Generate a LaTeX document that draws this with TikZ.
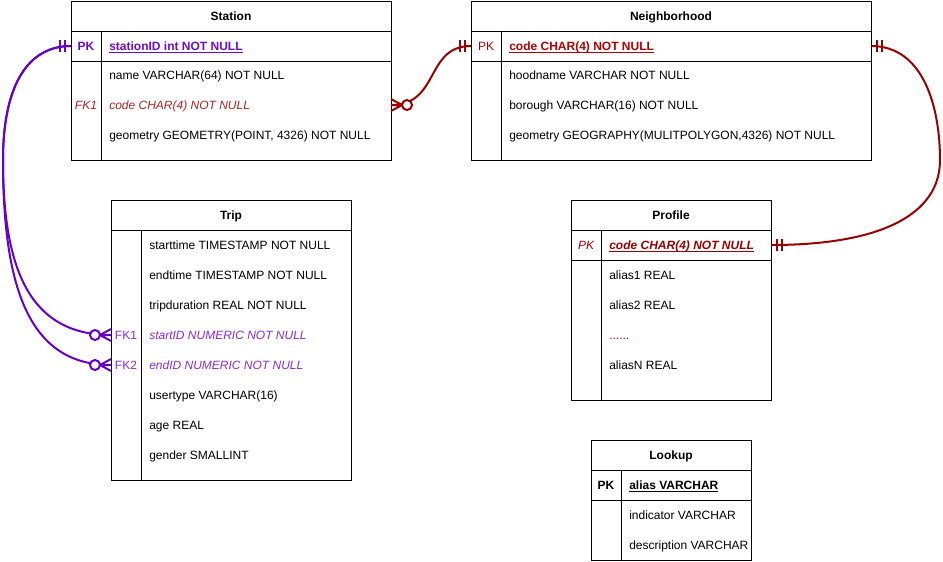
\documentclass[tikz,border=0pt]{standalone}
\usepackage{fontspec}
\setmainfont{Liberation Sans}
\newcommand{\myul}[1]{\leavevmode\setbox0\hbox{#1}\rlap{\raisebox{-1.7pt}{\rule{\wd0}{0.55pt}}}\box0}
\definecolor{pline}{HTML}{6600CC}
\definecolor{ptext}{HTML}{6A0DCC}
\definecolor{pfk}{HTML}{8A2BE2}
\definecolor{rline}{HTML}{990000}
\definecolor{rtext}{HTML}{B20000}
\definecolor{rfk}{HTML}{B22222}
\begin{document}
\begin{tikzpicture}[x=0.75pt,y=-0.75pt,
  tbl/.style={draw, line width=0.75pt, anchor=north west, inner sep=0pt, fill=white},
  sepl/.style={line width=0.75pt},
  hdr/.style={anchor=base, yshift=-3.3pt, inner sep=0pt, font=\fontsize{9}{11}\selectfont\bfseries},
  fld/.style={anchor=base west, yshift=-3.3pt, inner sep=0pt, font=\fontsize{9}{11}\selectfont},
  keyl/.style={anchor=base, yshift=-3.3pt, inner sep=0pt, font=\fontsize{9}{11}\selectfont},
  plink/.style={draw=pline, line width=1.5pt},
  rlink/.style={draw=rline, line width=1.5pt},
  mone/.pic={\draw[line width=1.5pt] (6,-6)--(6,6) (11,-6)--(11,6);},
  zmany/.pic={\draw[line width=1.5pt] (0,-6)--(11,0)--(0,6) (0,0)--(11,0);
              \draw[line width=1.5pt, fill=white] (16,0) circle[radius=5];}
]
\useasboundingbox (0,0) rectangle (943,561);

% ---------- Station ----------
\node[tbl, minimum width=240pt, minimum height=119.25pt] (station) at (71,1) {};
\draw[sepl] (71,31) -- (391,31) (71,61) -- (391,61) (101,31) -- (101,160);
\node[hdr] (st-h) at (231,16) {Station};
\node[keyl, text=ptext, font=\fontsize{9}{11}\selectfont\bfseries] (st-pk) at (86,46) {PK};
\node[fld, text=ptext, font=\fontsize{9}{11}\selectfont\bfseries] (st-f0) at (109,46) {\myul{stationID int NOT NULL}};
\node[fld] (st-f1) at (109,75) {name VARCHAR(64) NOT NULL};
\node[keyl, text=rfk, font=\fontsize{9}{11}\selectfont\itshape] (st-fk) at (86,105) {FK1};
\node[fld, text=rfk, font=\fontsize{9}{11}\selectfont\itshape] (st-f2) at (109,105) {code CHAR(4) NOT NULL};
\node[fld] (st-f3) at (109,135) {geometry GEOMETRY(POINT, 4326) NOT NULL};

% ---------- Neighborhood ----------
\node[tbl, minimum width=300pt, minimum height=119.25pt] (hood) at (471,1) {};
\draw[sepl] (471,31) -- (871,31) (471,61) -- (871,61) (501,31) -- (501,160);
\node[hdr] (nb-h) at (671,16) {Neighborhood};
\node[keyl, text=rtext] (nb-pk) at (486,46) {PK};
\node[fld, text=rtext, font=\fontsize{9}{11}\selectfont\bfseries] (nb-f0) at (509,46) {\myul{code CHAR(4) NOT NULL}};
\node[fld] (nb-f1) at (509,75) {hoodname VARCHAR NOT NULL};
\node[fld] (nb-f2) at (509,105) {borough VARCHAR(16) NOT NULL};
\node[fld] (nb-f3) at (509,135) {geometry GEOGRAPHY(MULITPOLYGON,4326) NOT NULL};

% ---------- Trip ----------
\node[tbl, minimum width=180pt, minimum height=210pt] (trip) at (111,200) {};
\draw[sepl] (111,230) -- (351,230) (141,230) -- (141,480);
\node[hdr] (tr-h) at (231,215) {Trip};
\node[fld] (tr-f1) at (149,245) {starttime TIMESTAMP NOT NULL};
\node[fld] (tr-f2) at (149,275) {endtime TIMESTAMP NOT NULL};
\node[fld] (tr-f3) at (149,305) {tripduration REAL NOT NULL};
\node[keyl, text=pfk] (tr-fk1) at (126,335) {FK1};
\node[fld, text=pfk, font=\fontsize{9}{11}\selectfont\itshape] (tr-f4) at (149,335) {startID NUMERIC NOT NULL};
\node[keyl, text=pfk] (tr-fk2) at (126,365) {FK2};
\node[fld, text=pfk, font=\fontsize{9}{11}\selectfont\itshape] (tr-f5) at (149,365) {endID NUMERIC NOT NULL};
\node[fld] (tr-f6) at (149,395) {usertype VARCHAR(16)};
\node[fld] (tr-f7) at (149,425) {age REAL};
\node[fld] (tr-f8) at (149,455) {gender SMALLINT};

% ---------- Profile ----------
\node[tbl, minimum width=150pt, minimum height=150pt] (profile) at (571,200) {};
\draw[sepl] (571,230) -- (771,230) (571,260) -- (771,260) (601,230) -- (601,400);
\node[hdr] (pr-h) at (671,215) {Profile};
\node[keyl, text=rline, font=\fontsize{9}{11}\selectfont\itshape] (pr-pk) at (586,245) {PK};
\node[fld, text=rline, font=\fontsize{9}{11}\selectfont\bfseries\itshape] (pr-f0) at (609,245) {\myul{code CHAR(4) NOT NULL}};
\node[fld] (pr-f1) at (609,275) {alias1 REAL};
\node[fld] (pr-f2) at (609,305) {alias2 REAL};
\node[fld, text=rtext] (pr-f3) at (609,335) {......};
\node[fld] (pr-f4) at (609,365) {aliasN REAL};

% ---------- Lookup ----------
\node[tbl, minimum width=120pt, minimum height=90pt] (lookup) at (591,440) {};
\draw[sepl] (591,470) -- (751,470) (591,500) -- (751,500) (621,470) -- (621,560);
\node[hdr] (lk-h) at (671,455) {Lookup};
\node[keyl, font=\fontsize{9}{11}\selectfont\bfseries] (lk-pk) at (606,485) {PK};
\node[fld, font=\fontsize{9}{11}\selectfont\bfseries] (lk-f0) at (629,485) {\myul{alias VARCHAR}};
\node[fld] (lk-f1) at (629,515) {indicator VARCHAR};
\node[fld] (lk-f2) at (629,545) {description VARCHAR};

% ---------- connector end points ----------
\coordinate (stPK) at (71,46);
\coordinate (stFK) at (391,105);
\coordinate (nbPKl) at (471,46);
\coordinate (nbPKr) at (871,46);
\coordinate (prPK) at (771,245);
\coordinate (trFK1) at (111,335);
\coordinate (trFK2) at (111,365);

% ---------- connectors ----------
\draw[plink] (stPK) .. controls (25,46) and (3,90) .. (3,160)
             .. controls (3,270) and (30,335) .. (trFK1);
\draw[plink] (stPK) .. controls (25,46) and (3,90) .. (3,160)
             .. controls (3,290) and (30,365) .. (trFK2);
\draw[rlink] (stFK) .. controls (440,105) and (425,46) .. (nbPKl);
\draw[rlink] (nbPKr) .. controls (925,46) and (940,110) .. (940,160)
             .. controls (940,215) and (880,245) .. (prPK);

% ---------- end marks ----------
\pic[color=pline, xscale=-1] at (stPK) {mone};
\pic[color=pline, xscale=-1] at (trFK1) {zmany};
\pic[color=pline, xscale=-1] at (trFK2) {zmany};
\pic[color=rline] at (stFK) {zmany};
\pic[color=rline, xscale=-1] at (nbPKl) {mone};
\pic[color=rline] at (nbPKr) {mone};
\pic[color=rline] at (prPK) {mone};
\end{tikzpicture}
\end{document}
